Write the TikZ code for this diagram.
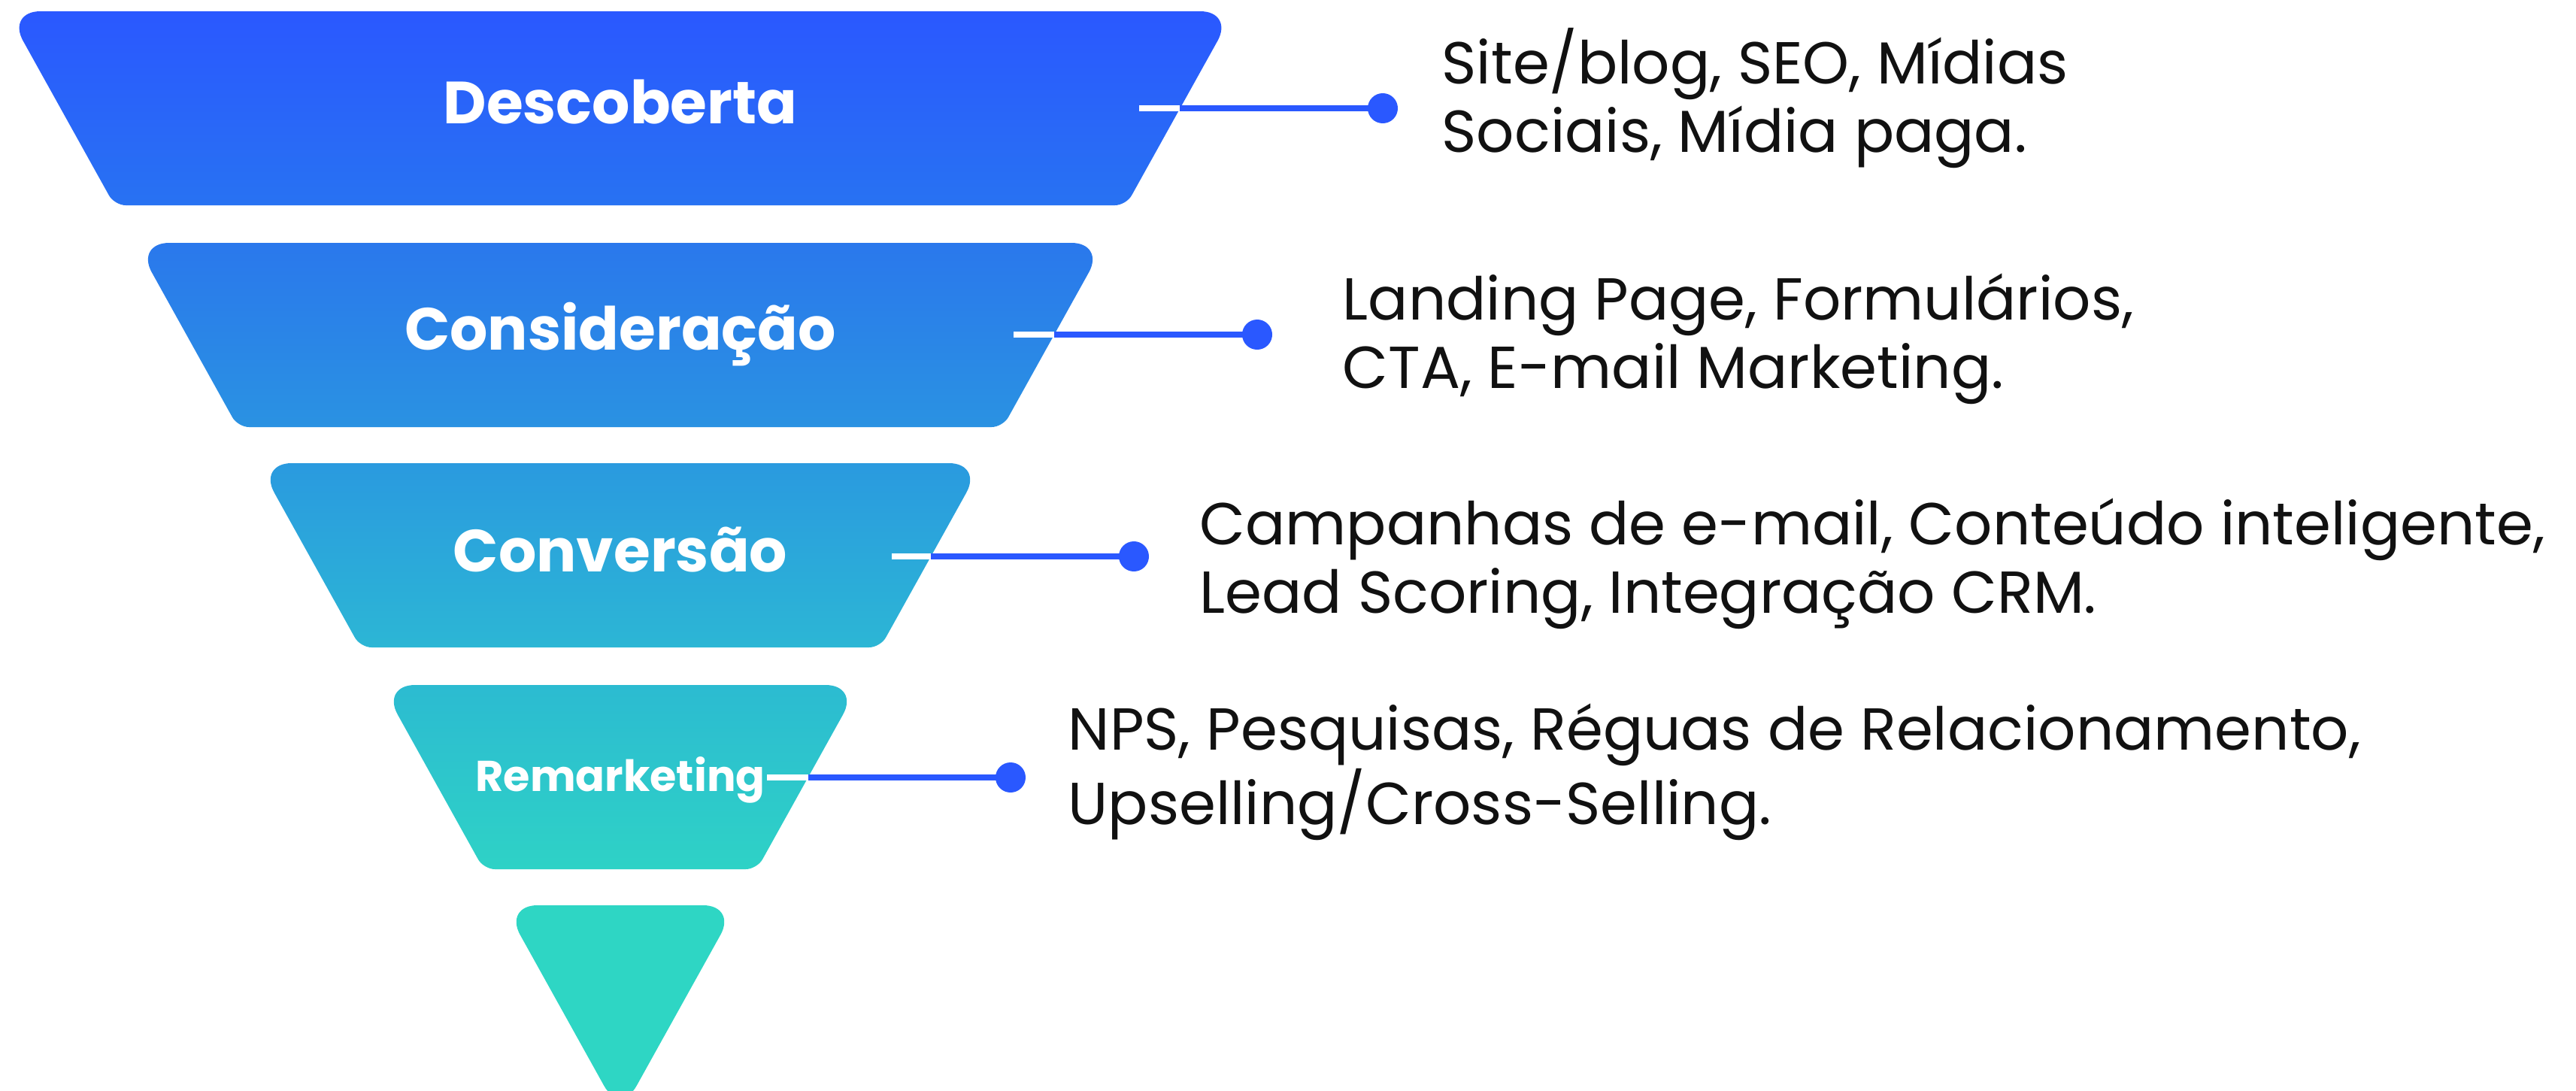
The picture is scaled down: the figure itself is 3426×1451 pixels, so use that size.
\documentclass[tikz,border=0pt]{standalone}
\usepackage{fontspec}
\usepackage{xcolor}
\setmainfont{Poppins}
\usetikzlibrary{positioning}
\definecolor{accent}{HTML}{2A58FF}
\definecolor{inktext}{HTML}{111111}
\definecolor{band1top}{HTML}{2A58FF}
\definecolor{band1bottom}{HTML}{2872F2}
\definecolor{band2top}{HTML}{2A78EC}
\definecolor{band2bottom}{HTML}{2A92E2}
\definecolor{band3top}{HTML}{2A9ADF}
\definecolor{band3bottom}{HTML}{2CB6D5}
\definecolor{band4top}{HTML}{2CBBD1}
\definecolor{band4bottom}{HTML}{2ED2C6}
\definecolor{band5}{HTML}{2ED6C4}
\tikzset{
    wide-corner/.style = {rounded corners=0.45cm},
    soft-corner/.style = {rounded corners=0.15cm},
    band-title/.style = {text=white, font=\bfseries\fontsize{22.5}{26}\selectfont, anchor=base},
    band-title-small/.style = {band-title, font=\bfseries\fontsize{16.3}{19}\selectfont},
    tool-dot/.style = {circle, fill=accent, inner sep=0pt, minimum size=0.4cm},
    tool-line/.style = {line width=0.08cm, draw=accent},
    tool-text/.style = {text=inktext, font=\fontsize{22.4}{25.6}\selectfont, align=left, anchor=base west, inner sep=0pt},
}

\begin{document}
\begin{tikzpicture}[x=0.01cm, y=-0.01cm]
\useasboundingbox (0,0) rectangle (3426,1451);

% funnel bands, slices of one triangle with apex at (825,1483)
\foreach \t/\b/\n in {15/273/1, 323/568/2, 616/861/3, 911/1156/4}{
    \pgfmathsetmacro\wt{(1483-\t)*0.556}
    \pgfmathsetmacro\wb{(1483-\b)*0.556}
    \shade[top color=band\n top, bottom color=band\n bottom]
        (825,\t) [wide-corner] -- (825+\wt,\t) [soft-corner] -- (825+\wb,\b)
        -- (825-\wb,\b) [wide-corner] -- (825-\wt,\t) -- cycle;
}
\fill[wide-corner, fill=band5] (825,1204) -- (825+155.1,1204) -- (825,1483) -- (825-155.1,1204) -- cycle;

% stage names
\node[band-title] (descoberta) at (825,164) {Descoberta};
\node[band-title] (consideracao) at (825,465) {Consideração};
\node[band-title] (conversao) at (825,760) {Conversão};
\node[band-title-small] (remarketing) at (825,1052) {Remarketing};

% connectors
\coordinate (s1) at (1515,144); \coordinate (e1) at (1569,144);
\coordinate (s2) at (1348,445); \coordinate (e2) at (1402,445);
\coordinate (s3) at (1186,740); \coordinate (e3) at (1238,740);
\coordinate (s4) at (1020,1034); \coordinate (e4) at (1075,1034);
\node[tool-dot] (d1) at (1839,144) {};
\node[tool-dot] (d2) at (1672,445) {};
\node[tool-dot] (d3) at (1508,740) {};
\node[tool-dot] (d4) at (1344,1034) {};
\foreach \i in {1,...,4}{
    \draw[tool-line, draw=white] (s\i) -- (e\i);
    \draw[tool-line] (e\i) -- (d\i.center);
}

% tools per stage (base = last line)
\node[tool-text] (tools1) at (1917,202) {Site/blog, SEO, Mídias\\Sociais, Mídia paga.};
\node[tool-text] (tools2) at (1785,516) {Landing Page, Formulários,\\CTA, E-mail Marketing.};
\node[tool-text] (tools3) at (1595,815) {Campanhas de e-mail, Conteúdo inteligente,\\Lead Scoring, Integração CRM.};
\node[tool-text] (tools4) at (1420,1096) {NPS, Pesquisas, Réguas de Relacionamento,\\Upselling/Cross-Selling.};
\end{tikzpicture}
\end{document}
